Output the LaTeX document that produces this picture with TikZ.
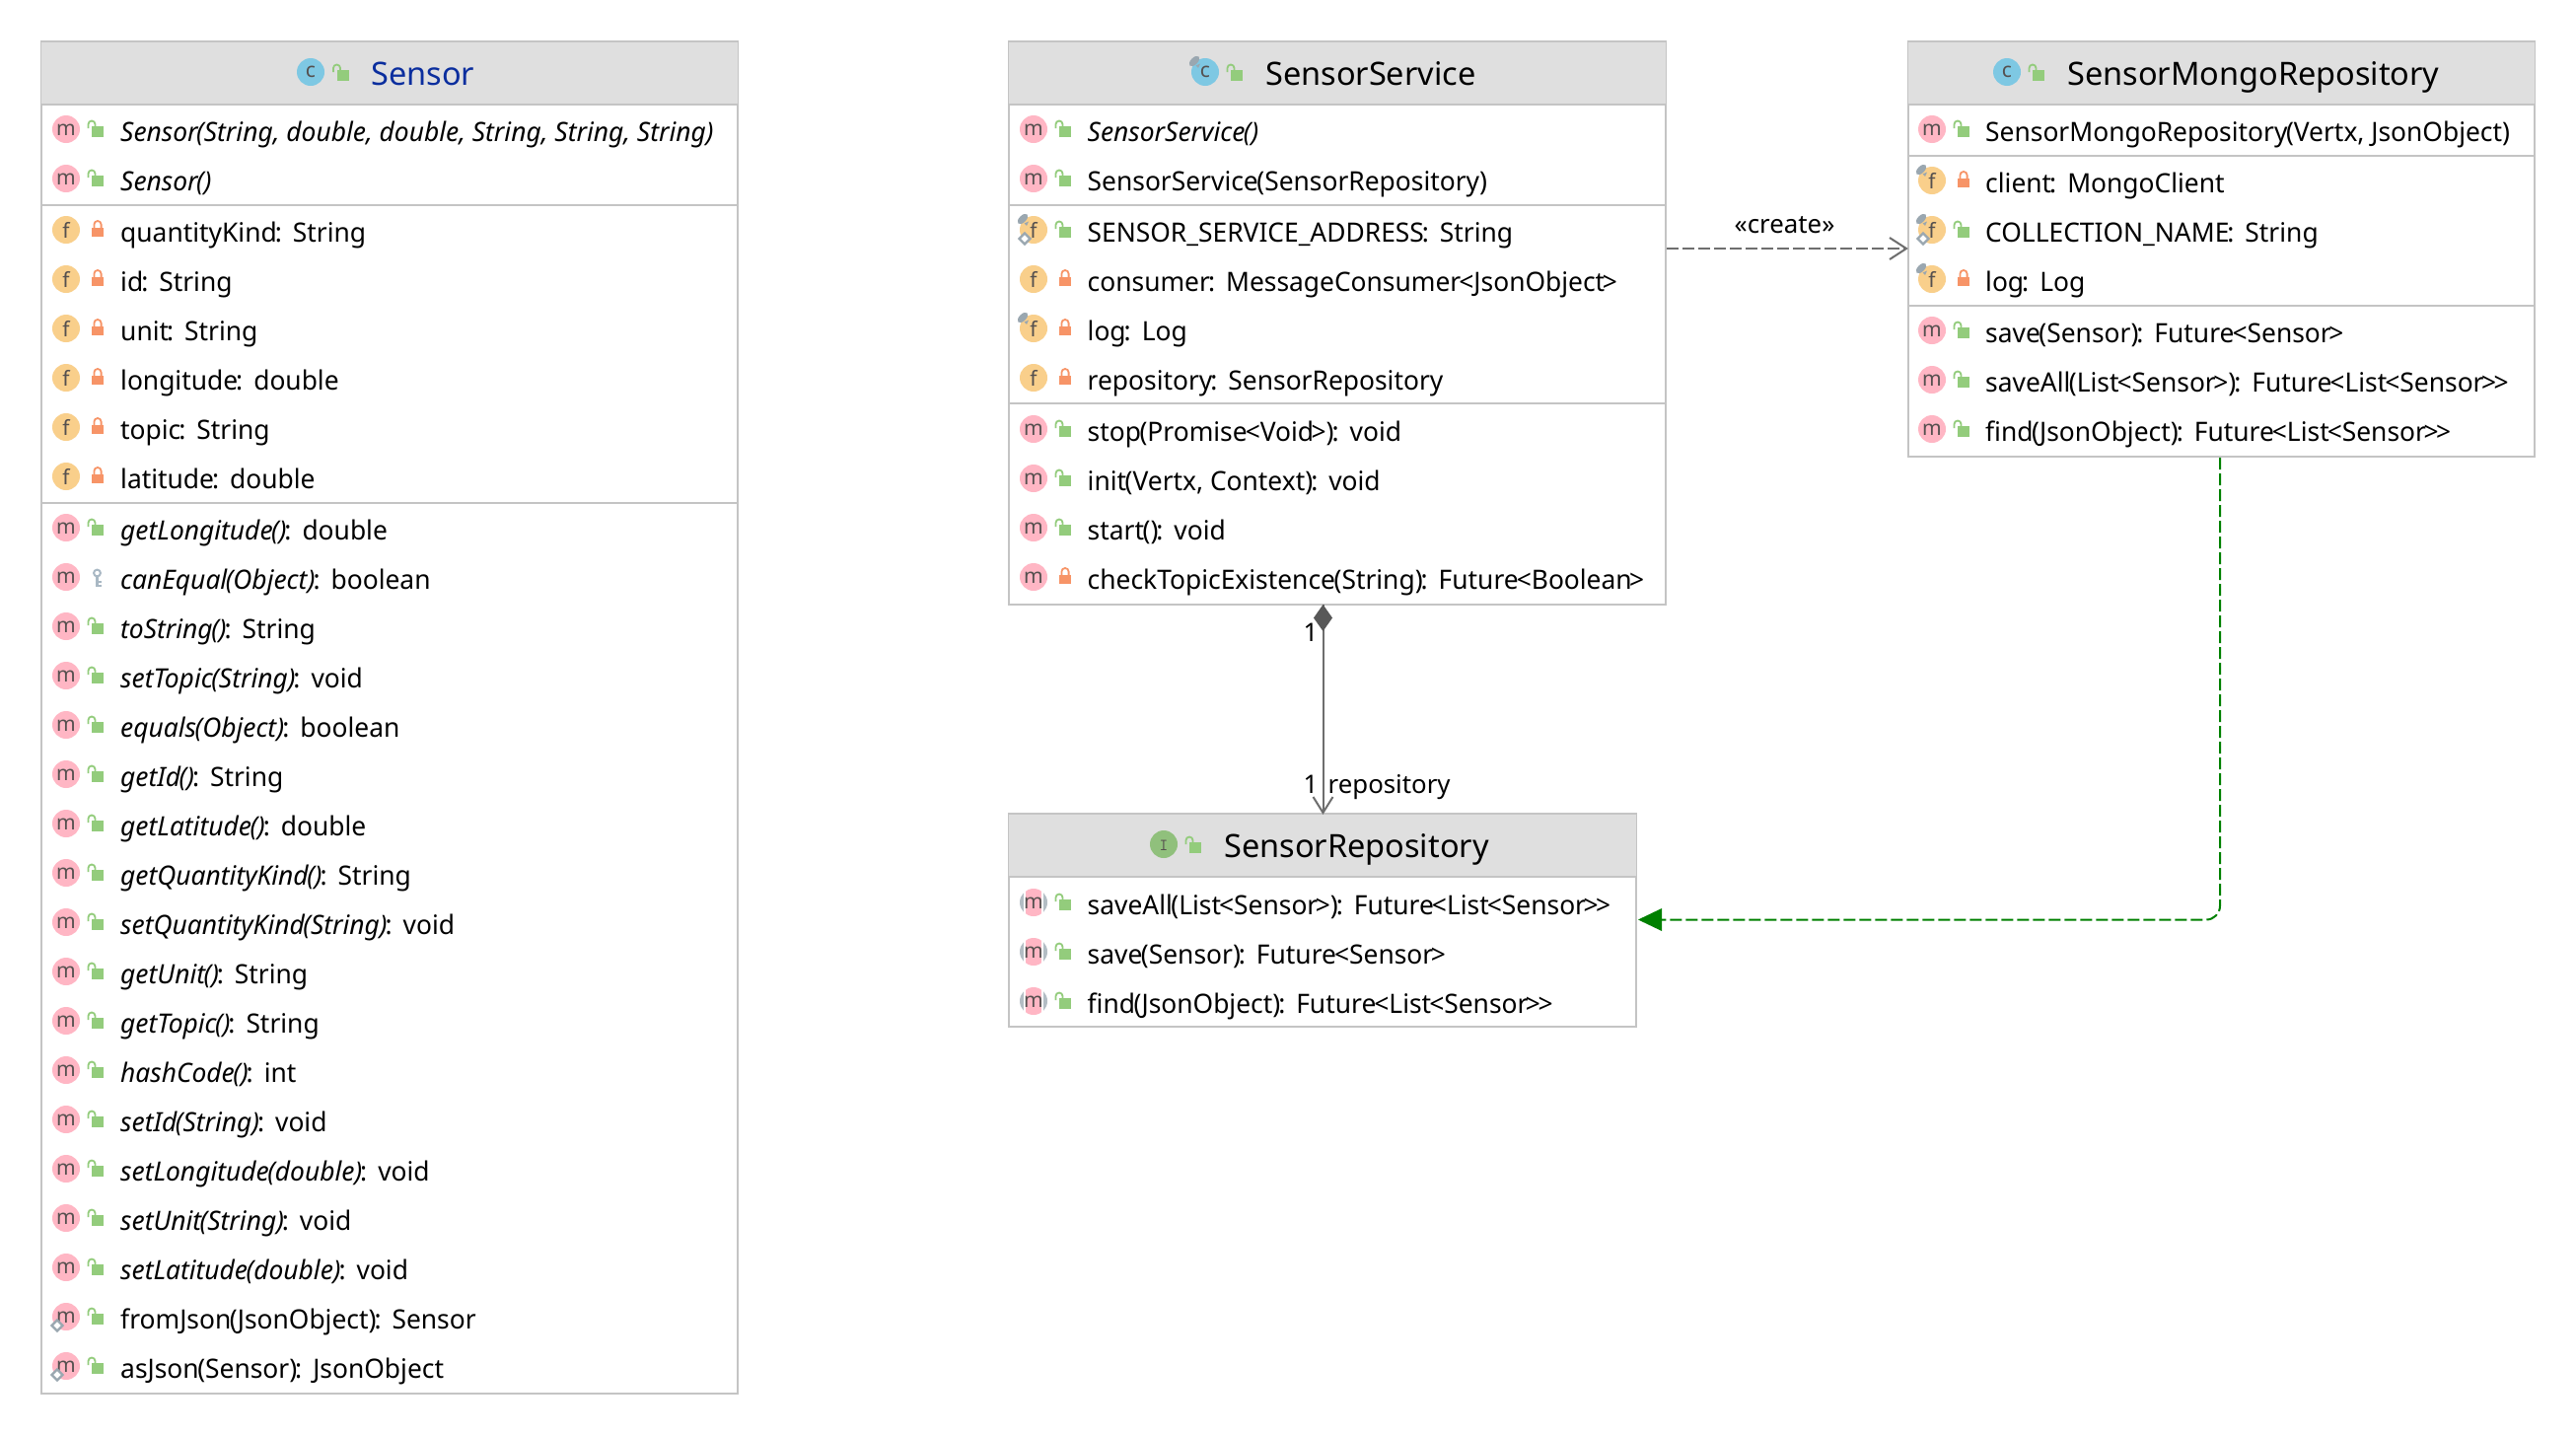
\documentclass[tikz,border=0pt]{standalone}
\usepackage{fontspec}
\setmainfont{Noto Sans}[FakeStretch=0.977]
\newfontfamily\plainfont{Noto Sans}
\usetikzlibrary{arrows.meta}
\definecolor{bordercol}{HTML}{C4C4C4}
\definecolor{headcol}{HTML}{DFDFDF}
\definecolor{mcol}{HTML}{FFB6C4}
\definecolor{fcol}{HTML}{F9CF8B}
\definecolor{ccol}{HTML}{7EC8E3}
\definecolor{icol}{HTML}{90C07C}
\definecolor{lockg}{HTML}{93CC7C}
\definecolor{lockr}{HTML}{F79467}
\definecolor{pincol}{HTML}{9AA7B0}
\definecolor{keycol}{HTML}{A9B8C4}
\definecolor{lettercol}{HTML}{55504F}
\definecolor{linecol}{HTML}{6E6E6E}
\definecolor{greenline}{HTML}{008000}
\definecolor{titleblue}{HTML}{0B2E9E}
\newcommand{\memsize}{\fontsize{27}{27}\selectfont}
\newcommand{\titlesize}{\plainfont\fontsize{32.5}{32.5}\selectfont}
\newcommand{\Lp}{\kern-1.5pt\textbf{(}}
\newcommand{\Rp}{\textbf{)}}
\newcommand{\LT}{\kern-2pt<}
\newcommand{\GT}{\kern-2.5pt>}
\newcommand{\R}[2]{#1\kern-2pt\textbf{:}\kern11pt #2}
\newcommand{\IT}[2]{\textit{#1}\kern-2pt\textbf{:}\kern11pt #2}
\tikzset{
  x=1pt,y=-1pt,
  umlbox/.style={draw=bordercol,line width=2pt,fill=white,rectangle,anchor=north west,inner sep=0pt,outer sep=0pt},
  member/.style={anchor=base west,inner sep=0pt,font=\memsize,text=black},
  titletext/.style={anchor=base west,inner sep=0pt,font=\titlesize,text=black},
  lettertext/.style={inner sep=0pt,text=lettercol,font=\plainfont\fontsize{21}{21}\selectfont},
  edgelabel/.style={inner sep=0pt,font=\plainfont\fontsize{25.8}{25.8}\selectfont,text=black},
  assoc/.style={draw=linecol,line width=2pt},
}
\newcommand{\lockopen}[2]{%
  \fill[lockg] (#1-6,#2+0) rectangle (#1+6,#2+11);
  \draw[lockg,line width=1.8pt] (#1-9.5,#2+2) -- (#1-9.5,#2-2) arc[start angle=180,end angle=0,x radius=3.5,y radius=-3.5] -- (#1-2.5,#2+1);
}
\newcommand{\lockshut}[2]{%
  \fill[lockr] (#1-6,#2+1) rectangle (#1+6,#2+10);
  \draw[lockr,line width=1.8pt] (#1-3.6,#2+1) -- (#1-3.6,#2-2.4) arc[start angle=180,end angle=0,x radius=3.6,y radius=-3.6] -- (#1+3.6,#2+1);
}
\newcommand{\lockpkg}[2]{%
  \draw[keycol,line width=2pt] (#1-0.5,#2-1) circle[radius=3.4];
  \draw[keycol,line width=2.2pt] (#1-0.5,#2+2) -- (#1-0.5,#2+13) (#1-0.5,#2+8) -- (#1+3.5,#2+8) (#1-0.5,#2+12) -- (#1+3.5,#2+12);
}
\newcommand{\pin}[2]{%
  \fill[pincol,rotate around={-45:(#1-11,#2-11)}] (#1-11,#2-11) ellipse[x radius=3.5,y radius=6.5];
  \fill[pincol] (#1-9.5,#2-6.5) -- (#1-5,#2-8.5) -- (#1-7,#2-4) -- cycle;
}
\newcommand{\diam}[2]{%
  \draw[pincol,fill=white,line width=2.4pt] (#1-9,#2+3.5) -- (#1-3.5,#2+9) -- (#1-9,#2+14.5) -- (#1-14.5,#2+9) -- cycle;
}
\newcommand{\discm}[2]{%
  \fill[mcol] (#1,#2) circle[radius=14];
  \node[lettertext,anchor=base] at (#1,#2+6) {m};
}
\newcommand{\discf}[2]{%
  \fill[fcol] (#1,#2) circle[radius=14];
  \node[lettertext,anchor=base] at (#1,#2+8) {f};
}
\newcommand{\discc}[2]{%
  \fill[ccol] (#1,#2) circle[radius=14];
  \node[lettertext,anchor=base] at (#1,#2+5.5) {c};
}
\newcommand{\absdisc}[2]{%
  \fill[pincol!75] (#1,#2) circle[radius=14];
  \fill[white] (#1-10,#2-14) rectangle (#1+10,#2+14);
  \begin{scope}
    \clip (#1,#2) circle[radius=14];
    \fill[mcol] (#1-8,#2-14) rectangle (#1+8,#2+14);
  \end{scope}
  \node[lettertext,anchor=base] at (#1,#2+6) {m};
}
% #1 icon x, #2 lock x, #3 text x, #4 y, #5 kind, #6 visibility, #7 name, #8 text
\newcommand{\rowitem}[8]{%
  \ifx#5m\discm{#1}{#4-2}\fi
  \ifx#5f\discf{#1}{#4-2}\fi
  \ifx#5a\absdisc{#1}{#4-2}\fi
  \ifx#5p\discf{#1}{#4-2}\pin{#1}{#4-2}\fi
  \ifx#5s\discf{#1}{#4-2}\pin{#1}{#4-2}\diam{#1}{#4-2}\fi
  \ifx#5d\discm{#1}{#4-2}\diam{#1}{#4-2}\fi
  \ifx#6o\lockopen{#2}{#4-5}\fi
  \ifx#6s\lockshut{#2}{#4-5}\fi
  \ifx#6p\lockpkg{#2}{#4-5}\fi
  \node[member] (#7) at (#3,#4+10.5) {#8};
}
\newcommand{\SA}[5]{\rowitem{67}{99}{122}{#1}{#2}{#3}{#4}{#5}}
\newcommand{\SB}[5]{\rowitem{1048}{1080}{1102.5}{#1}{#2}{#3}{#4}{#5}}
\newcommand{\SC}[5]{\rowitem{1959}{1991}{2013}{#1}{#2}{#3}{#4}{#5}}
\begin{document}
\begin{tikzpicture}
\useasboundingbox (0,0) rectangle (2612,1454);
\fill[white] (0,0) rectangle (2612,1454);

% ---------- Sensor
\node[umlbox,minimum width=706pt,minimum height=1371pt] (sensor) at (42,42) {};
\fill[headcol] (42,42) rectangle (748,106);
\draw[bordercol,line width=2pt] (41,42) -- (749,42) (42,106) -- (748,106) (42,208) -- (748,208) (42,510) -- (748,510);
\discc{315}{73}
\lockopen{347.5}{71}
\node[titletext,text=titleblue] (sensortitle) at (376,86.5) {Sensor};
\SA{133}{m}{o}{s1}{\textit{Sensor\Lp String, double, double, String, String, String\Rp}}
\SA{183}{m}{o}{s2}{\textit{Sensor\Lp\Rp}}
\SA{235}{f}{s}{s3}{\R{quantityKind}{String}}
\SA{285}{f}{s}{s4}{\R{id}{String}}
\SA{335}{f}{s}{s5}{\R{unit}{String}}
\SA{385}{f}{s}{s6}{\R{longitude}{double}}
\SA{435}{f}{s}{s7}{\R{topic}{String}}
\SA{485}{f}{s}{s8}{\R{latitude}{double}}
\SA{537}{m}{o}{s9}{\IT{getLongitude\Lp\Rp}{double}}
\SA{587}{m}{p}{s10}{\IT{canEqual\Lp Object\Rp}{boolean}}
\SA{637}{m}{o}{s11}{\IT{toString\Lp\Rp}{String}}
\SA{687}{m}{o}{s12}{\IT{setTopic\Lp String\Rp}{void}}
\SA{737}{m}{o}{s13}{\IT{equals\Lp Object\Rp}{boolean}}
\SA{787}{m}{o}{s14}{\IT{getId\Lp\Rp}{String}}
\SA{837}{m}{o}{s15}{\IT{getLatitude\Lp\Rp}{double}}
\SA{887}{m}{o}{s16}{\IT{getQuantityKind\Lp\Rp}{String}}
\SA{937}{m}{o}{s17}{\IT{setQuantityKind\Lp String\Rp}{void}}
\SA{987}{m}{o}{s18}{\IT{getUnit\Lp\Rp}{String}}
\SA{1037}{m}{o}{s19}{\IT{getTopic\Lp\Rp}{String}}
\SA{1087}{m}{o}{s20}{\IT{hashCode\Lp\Rp}{int}}
\SA{1137}{m}{o}{s21}{\IT{setId\Lp String\Rp}{void}}
\SA{1187}{m}{o}{s22}{\IT{setLongitude\Lp double\Rp}{void}}
\SA{1237}{m}{o}{s23}{\IT{setUnit\Lp String\Rp}{void}}
\SA{1287}{m}{o}{s24}{\IT{setLatitude\Lp double\Rp}{void}}
\SA{1337}{d}{o}{s25}{\R{fromJson\Lp JsonObject\Rp}{Sensor}}
\SA{1387}{d}{o}{s26}{\R{asJson\Lp Sensor\Rp}{JsonObject}}

% ---------- SensorService
\node[umlbox,minimum width=666pt,minimum height=571pt] (service) at (1023,42) {};
\fill[headcol] (1023,42) rectangle (1689,106);
\draw[bordercol,line width=2pt] (1022,42) -- (1690,42) (1023,106) -- (1689,106) (1023,208) -- (1689,208) (1023,409) -- (1689,409);
\discc{1222}{73}\pin{1222}{73}
\lockopen{1254}{71}
\node[titletext] (servicetitle) at (1283,86.5) {SensorService};
\SB{133}{m}{o}{b1}{\textit{SensorService\Lp\Rp}}
\SB{183}{m}{o}{b2}{SensorService\Lp SensorRepository\Rp}
\SB{235}{s}{o}{b3}{\R{SENSOR\_SERVICE\_ADDRESS}{String}}
\SB{285}{f}{s}{b4}{\R{consumer}{MessageConsumer\LT JsonObject\GT}}
\SB{335}{p}{s}{b5}{\R{log}{Log}}
\SB{385}{f}{s}{b6}{\R{repository}{SensorRepository}}
\SB{437}{m}{o}{b7}{\R{stop\Lp Promise\LT Void\GT\Rp}{void}}
\SB{487}{m}{o}{b8}{\R{init\Lp Vertx, Context\Rp}{void}}
\SB{537}{m}{o}{b9}{\R{start\Lp\Rp}{void}}
\SB{587}{m}{s}{b10}{\R{checkTopicExistence\Lp String\Rp}{Future\LT Boolean\GT}}

% ---------- SensorMongoRepository
\node[umlbox,minimum width=635.5pt,minimum height=421pt] (mongo) at (1934.5,42) {};
\fill[headcol] (1934.5,42) rectangle (2570,106);
\draw[bordercol,line width=2pt] (1933.5,42) -- (2571,42) (1934.5,106) -- (2570,106) (1934.5,158) -- (2570,158) (1934.5,310) -- (2570,310);
\discc{2035}{73}
\lockopen{2067}{71}
\node[titletext] (mongotitle) at (2096,86.5) {SensorMongoRepository};
\SC{133}{m}{o}{c1}{SensorMongoRepository\Lp Vertx, JsonObject\Rp}
\SC{185}{p}{s}{c2}{\R{client}{MongoClient}}
\SC{235}{s}{o}{c3}{\R{COLLECTION\_NAME}{String}}
\SC{285}{p}{s}{c4}{\R{log}{Log}}
\SC{337}{m}{o}{c5}{\R{save\Lp Sensor\Rp}{Future\LT Sensor\GT}}
\SC{387}{m}{o}{c6}{\R{saveAll\Lp List\LT Sensor\GT\Rp}{Future\LT List\LT Sensor\GT{}\GT}}
\SC{437}{m}{o}{c7}{\R{find\Lp JsonObject\Rp}{Future\LT List\LT Sensor\GT{}\GT}}

% ---------- SensorRepository
\node[umlbox,minimum width=636pt,minimum height=216pt] (repo) at (1023,825) {};
\fill[headcol] (1023,825) rectangle (1659,889);
\draw[bordercol,line width=2pt] (1022,825) -- (1660,825) (1023,889) -- (1659,889);
\fill[icol] (1180,856) circle[radius=14];
\node[lettertext,anchor=base] at (1180,862) {\fontsize{17}{17}\selectfont\ttfamily I};
\lockopen{1212}{854}
\node[titletext] (repotitle) at (1241,869.5) {SensorRepository};
\SB{917}{a}{o}{r1}{\R{saveAll\Lp List\LT Sensor\GT\Rp}{Future\LT List\LT Sensor\GT{}\GT}}
\SB{967}{a}{o}{r2}{\R{save\Lp Sensor\Rp}{Future\LT Sensor\GT}}
\SB{1017}{a}{o}{r3}{\R{find\Lp JsonObject\Rp}{Future\LT List\LT Sensor\GT{}\GT}}

% ---------- Connectors
\coordinate (compA) at (service.south -| 1341.5,0);
\coordinate (compB) at (1341.5,824);
\coordinate (createA) at (1690,252);
\coordinate (createB) at (1933,252);
\coordinate (implA) at (2251,464);
\coordinate (implB) at (1661,932.5);
\draw[assoc] (compA) -- (compB);
\fill[linecol!80!black] (1341.5,613) -- (1351,626.5) -- (1341.5,640) -- (1332,626.5) -- cycle;
\draw[assoc] (1331.5,808) -- (compB) -- (1351.5,808);
\node[edgelabel,anchor=base] (one1) at (1329,650) {1};
\node[edgelabel,anchor=base] (one2) at (1329,804) {1};
\node[edgelabel,anchor=base west] (replabel) at (1346.5,804) {repository};
\draw[assoc,dash pattern=on 12pt off 4pt] (createA) -- (createB);
\draw[assoc] (1916,241) -- (createB) -- (1916,263);
\node[edgelabel,anchor=base] (createlabel) at (1809.5,236) {«create»};
\draw[greenline,line width=2pt,dash pattern=on 12pt off 4pt,rounded corners=14pt] (implA) -- (2251,932.5) -- (1682,932.5);
\fill[greenline] (implB) -- (1685,921) -- (1685,944) -- cycle;
\end{tikzpicture}
\end{document}
